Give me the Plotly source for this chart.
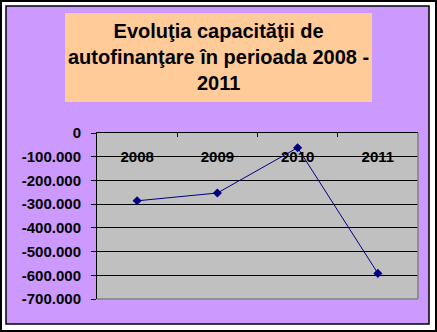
import plotly.graph_objects as go

years = ["2008", "2009", "2010", "2011"]
values = [-286000, -253000, -62000, -592000]
y_tick_vals = [0, -100000, -200000, -300000, -400000, -500000, -600000, -700000]
y_tick_text = ["0", "-100.000", "-200.000", "-300.000", "-400.000", "-500.000", "-600.000", "-700.000"]
title_text = "Evoluţia capacităţii de<br>autofinanţare în perioada 2008 -<br>2011"

W, H = 437, 332
L, R, T, B = 97, 19, 133, 33
PW, PH = W - L - R, H - T - B

def px(x):
    return (x - L) / PW

def py(y):
    return (H - B - y) / PH

FONT = "Arial, 'Liberation Sans', sans-serif"

fig = go.Figure()
fig.add_trace(go.Scatter(
    x=years, y=values, mode="lines+markers",
    line=dict(color="#000080", width=1),
    marker=dict(symbol="diamond", size=7, color="#000080"),
    showlegend=False, hoverinfo="x+y",
))
# invisible companion trace that carries the category tick labels axis
fig.add_trace(go.Scatter(
    x=years, y=values, mode="markers", xaxis="x2", yaxis="y",
    marker=dict(opacity=0), showlegend=False, hoverinfo="skip",
))

shapes = [
    dict(type="rect", xref="paper", yref="paper", x0=px(1), x1=px(436), y0=py(1), y1=py(331),
         line=dict(color="black", width=2), fillcolor="white", layer="below"),
    dict(type="rect", xref="paper", yref="paper", x0=px(6), x1=px(429), y0=py(6), y1=py(324),
         line=dict(color="black", width=1.5), fillcolor="#CC99FF", layer="below"),
    dict(type="rect", xref="paper", yref="paper", x0=px(65), x1=px(372), y0=py(13), y1=py(102),
         line=dict(width=0), fillcolor="#FFCC99", layer="below"),
    # plot area background
    dict(type="rect", xref="paper", yref="paper", x0=0, x1=1, y0=0, y1=1,
         line=dict(width=0), fillcolor="#C0C0C0", layer="below"),
    # gray right and bottom plot borders
    dict(type="line", xref="paper", yref="paper", x0=1, x1=1, y0=0, y1=1,
         line=dict(color="#808080", width=1.5), layer="above"),
    dict(type="line", xref="paper", yref="paper", x0=0, x1=1, y0=0, y1=0,
         line=dict(color="#808080", width=1.5), layer="above"),
]

tickfont = dict(family=FONT, size=15, color="black", weight="bold")

fig.update_layout(
    width=W, height=H,
    margin=dict(l=L, r=R, t=T, b=B, pad=0),
    paper_bgcolor="white",
    plot_bgcolor="rgba(0,0,0,0)",
    font=dict(family=FONT, color="black"),
    shapes=shapes,
    annotations=[dict(
        text="<b>" + title_text + "</b>", xref="paper", yref="paper",
        x=px(218.5), y=py(57.5), xanchor="center", yanchor="middle",
        showarrow=False, font=dict(family=FONT, size=20, color="black"), align="center",
    )],
    xaxis=dict(
        type="category", range=[-0.5, 3.5], side="top",
        showgrid=False, zeroline=False, showticklabels=False,
        showline=True, linecolor="black", linewidth=1,
        ticks="inside", ticklen=4, tickcolor="black", tickson="boundaries",
    ),
    xaxis2=dict(
        type="category", range=[-0.5, 3.5], overlaying="x", anchor="free",
        position=py(146), side="bottom",
        showgrid=False, zeroline=False, showline=False, ticks="",
        tickfont=tickfont,
    ),
    yaxis=dict(
        range=[-700000, 0], tickvals=y_tick_vals, ticktext=y_tick_text,
        showgrid=True, gridcolor="black", gridwidth=1, zeroline=False,
        showline=True, linecolor="black", linewidth=1,
        ticks="outside", ticklen=5, tickcolor="black", ticklabelstandoff=7,
        tickfont=tickfont,
    ),
)

fig.write_html("out.html")
